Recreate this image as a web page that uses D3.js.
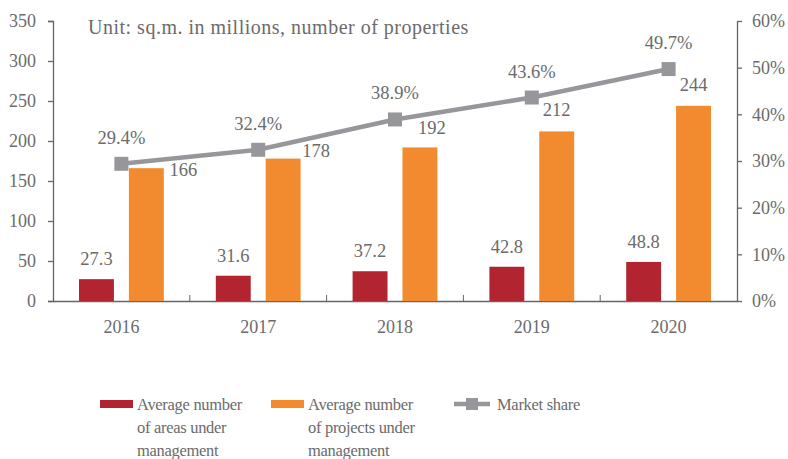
<!DOCTYPE html>
<html>
<head>
    <meta charset="utf-8" />
    <title>Area and projects under management</title>
    <script src="https://cdn.jsdelivr.net/npm/d3@7/dist/d3.min.js"></script>
    <style>
        body { margin: 0; background: #fff; }
    </style>
</head>
<body>
    <script>
        let years = ['2016', '2017', '2018', '2019', '2020']
        let areas = [27.3, 31.6, 37.2, 42.8, 48.8]
        let projects = [166, 178, 192, 212, 244]
        let share = [29.4, 32.4, 38.9, 43.6, 49.7]
        let leftTicks = [0, 50, 100, 150, 200, 250, 300, 350]
        let rightTicks = [0, 10, 20, 30, 40, 50, 60]

        // hand nudges for the project labels so they clear the line
        let labelNudge = [[37, 23], [33, 13], [12, 2], [0, 0], [0, 0]]

        let width = 788, height = 459
        let margin = { top: 21, right: 51, bottom: 158, left: 53 }
        let w = width - margin.left - margin.right,
            h = height - margin.top - margin.bottom

        let red = '#b22530', orange = '#f28a30', grey = '#97979b', axisCol = '#666', textCol = '#6b6b6b'
        let serif = '"Liberation Serif", "DejaVu Serif", "Times New Roman", serif'

        let svg = d3.select('body').append('svg')
            .attr('width', width).attr('height', height)
        let g = svg.append('g').attr('transform', `translate(${margin.left},${margin.top})`)

        let x = d3.scaleBand().domain(years).range([0, w])
        let inner = d3.scaleBand().domain(['a', 'p']).range([26, x.bandwidth() - 26]).paddingInner(0.3)
        let y = d3.scaleLinear().domain([0, 350]).range([h, 0])
        let y2 = d3.scaleLinear().domain([0, 60]).range([h, 0])

        // axes
        let yAxis = g.append('g').call(d3.axisLeft(y).tickValues(leftTicks).tickSizeOuter(0).tickSize(5).tickPadding(12))
        let y2Axis = g.append('g').attr('transform', `translate(${w},0)`)
            .call(d3.axisRight(y2).tickValues(rightTicks).tickSize(5).tickSizeOuter(0).tickPadding(14).tickFormat(d => d + '%'))
        let xAxis = g.append('g').attr('transform', `translate(0,${h})`)
            .call(d3.axisBottom(x).tickSize(0).tickSizeOuter(0).tickPadding(19))

        // category separators point up into the plot
        g.append('g').selectAll('line.sep')
            .data(years.slice(1))
            .join('line')
            .attr('x1', d => x(d)).attr('x2', d => x(d))
            .attr('y1', h).attr('y2', h - 6)
            .attr('stroke', axisCol)

        svg.selectAll('.domain, .tick line').attr('stroke', axisCol).attr('stroke-width', 1.3)
        svg.selectAll('.tick text').style('font-size', '18px')
        yAxis.selectAll('.tick text').attr('text-anchor', 'end')
        y2Axis.selectAll('.tick text').attr('dx', -4)

        // title
        g.append('text').attr('x', 35).attr('y', 13)
            .style('font-size', '20px').style('letter-spacing', '0.5px')
            .text('Unit: sq.m. in millions, number of properties')

        // bars
        g.selectAll('rect.area').data(areas).join('rect')
            .attr('x', (d, i) => x(years[i]) + inner('a'))
            .attr('width', inner.bandwidth())
            .attr('y', d => y(d)).attr('height', d => h - y(d))
            .attr('fill', red)
        g.selectAll('rect.proj').data(projects).join('rect')
            .attr('x', (d, i) => x(years[i]) + inner('p'))
            .attr('width', inner.bandwidth())
            .attr('y', d => y(d)).attr('height', d => h - y(d))
            .attr('fill', orange)

        g.selectAll('text.alab').data(areas).join('text')
            .attr('x', (d, i) => x(years[i]) + inner('a') + inner.bandwidth() / 2)
            .attr('y', d => y(d) - 14)
            .attr('text-anchor', 'middle').style('font-size', '18.5px')
            .text(d => d.toFixed(1))
        g.selectAll('text.plab').data(projects).join('text')
            .attr('x', (d, i) => x(years[i]) + inner('p') + inner.bandwidth() / 2 + labelNudge[i][0])
            .attr('y', (d, i) => y(d) - 15 + labelNudge[i][1])
            .attr('text-anchor', 'middle').style('font-size', '18.5px')
            .text(d => d)

        // market share line
        let cx = d => x(d) + x.bandwidth() / 2
        let line = d3.line().x((d, i) => cx(years[i])).y(d => y2(d))
        g.append('path').datum(share)
            .attr('d', line).attr('fill', 'none')
            .attr('stroke', grey).attr('stroke-width', 4.5)
        g.selectAll('rect.pt').data(share).join('rect')
            .attr('x', (d, i) => cx(years[i]) - 7).attr('y', d => y2(d) - 7)
            .attr('width', 14).attr('height', 14).attr('fill', grey)
        g.selectAll('text.slab').data(share).join('text')
            .attr('x', (d, i) => cx(years[i]))
            .attr('y', d => y2(d) - 20)
            .attr('text-anchor', 'middle').style('font-size', '18.5px')
            .text(d => d.toFixed(1) + '%')

        // legend
        let legend = svg.append('g').style('font-size', '16.5px').style('letter-spacing', '-0.3px')
        let items = [
            { lines: ['Average number', 'of areas under', 'management'], col: red, x: 100, type: 'bar' },
            { lines: ['Average number', 'of projects under', 'management'], col: orange, x: 271, type: 'bar' },
            { lines: ['Market share'], col: grey, x: 454, type: 'line' }
        ]
        items.forEach(function (it) {
            let lg = legend.append('g').attr('transform', `translate(${it.x},404)`)
            if (it.type === 'bar') {
                lg.append('rect').attr('x', 0).attr('y', -4).attr('width', 33).attr('height', 8).attr('fill', it.col)
            } else {
                lg.append('line').attr('x1', 0).attr('x2', 36).attr('y1', 0).attr('y2', 0)
                    .attr('stroke', it.col).attr('stroke-width', 4.5)
                lg.append('rect').attr('x', 12).attr('y', -6).attr('width', 12).attr('height', 12).attr('fill', it.col)
            }
            lg.append('text').attr('x', it.type === 'bar' ? 37 : 43).attr('y', 6)
                .selectAll('tspan').data(it.lines).join('tspan')
                .attr('x', it.type === 'bar' ? 37 : 43)
                .attr('dy', (d, i) => i === 0 ? 0 : 23)
                .text(d => d)
        })

        svg.selectAll('text').style('font-family', serif).style('fill', textCol)
    </script>
</body>
</html>
